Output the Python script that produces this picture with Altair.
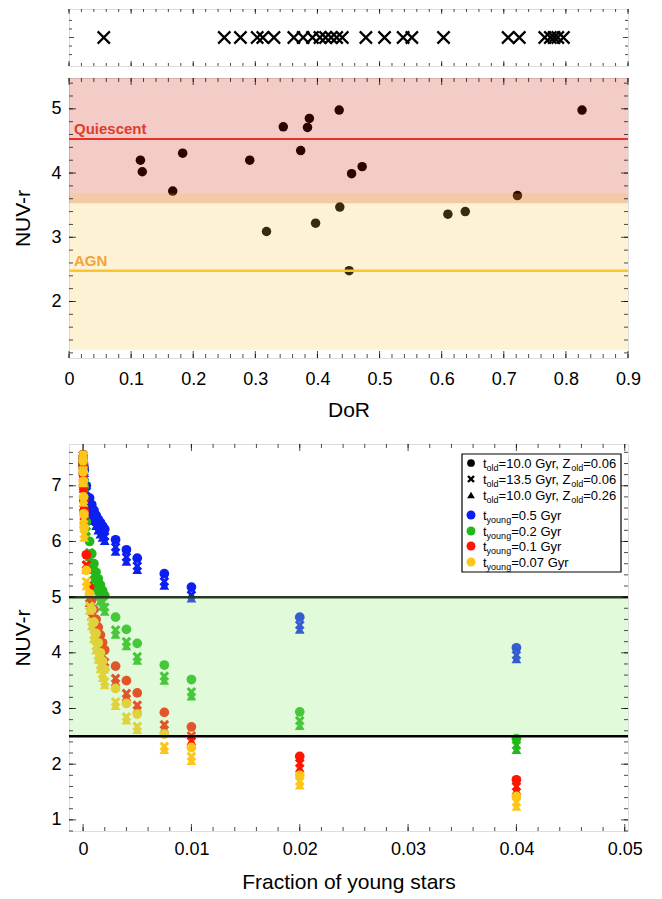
import altair as alt
import pandas as pd

FONT = "Liberation Sans"

# ---------------- top strip: DoR of the full sample ----------------
strip_dor = [0.056, 0.250, 0.276, 0.303, 0.312, 0.330, 0.362, 0.377, 0.392, 0.404,
             0.413, 0.422, 0.431, 0.440, 0.478, 0.508, 0.538, 0.552, 0.603, 0.707,
             0.725, 0.766, 0.775, 0.781, 0.787, 0.796]

# ---------------- middle panel: NUV-r vs DoR ----------------
mid_dor = [0.115, 0.118, 0.167, 0.183, 0.291, 0.318, 0.345, 0.373, 0.384, 0.387, 0.397,
           0.435, 0.436, 0.451, 0.455, 0.472, 0.610, 0.638, 0.722, 0.826]
mid_nuvr = [4.20, 4.02, 3.72, 4.31, 4.20, 3.09, 4.72, 4.35, 4.71, 4.85, 3.22,
            4.98, 3.47, 2.48, 3.99, 4.10, 3.36, 3.40, 3.65, 4.98]
quiescent_line = 4.53
agn_line = 2.48
quiescent_band = [3.53, 5.48]
agn_band = [1.25, 3.68]
band_labels = ["Quiescent", "AGN"]

# ---------------- bottom panel: models ----------------
frac = [0, 0.00001, 0.00002, 0.00004, 0.00007, 0.0001, 0.0003, 0.0006, 0.0008, 0.001,
        0.0012, 0.0014, 0.0016, 0.0018, 0.002, 0.003, 0.004, 0.005, 0.0075, 0.01, 0.02, 0.04]

blue_circle = [7.45, 7.43, 7.41, 7.38, 7.33, 7.28, 7.00, 6.78, 6.66, 6.56, 6.47, 6.40, 6.34, 6.28, 6.22,
               6.03, 5.85, 5.70, 5.42, 5.18, 4.64, 4.09]
blue_cross = [7.55, 7.50, 7.45, 7.38, 7.30, 7.22, 6.90, 6.66, 6.54, 6.44, 6.35, 6.27, 6.21, 6.15, 6.09,
              5.90, 5.72, 5.56, 5.28, 5.04, 4.50, 3.96]
blue_tri = [7.60, 7.52, 7.46, 7.37, 7.27, 7.18, 6.84, 6.60, 6.47, 6.37, 6.28, 6.20, 6.13, 6.07, 6.01,
            5.82, 5.64, 5.49, 5.21, 4.98, 4.42, 3.89]

green_circle = [7.45, 7.40, 7.35, 7.25, 7.10, 6.98, 6.35, 6.00, 5.78, 5.60, 5.45, 5.33, 5.22, 5.12, 5.03,
                4.64, 4.42, 4.17, 3.78, 3.52, 2.94, 2.46]
green_cross = [7.55, 7.45, 7.36, 7.20, 7.02, 6.86, 6.18, 5.80, 5.58, 5.40, 5.25, 5.12, 5.01, 4.91, 4.82,
               4.41, 4.20, 3.93, 3.58, 3.30, 2.78, 2.34]
green_tri = [7.60, 7.48, 7.37, 7.18, 6.97, 6.80, 6.10, 5.72, 5.50, 5.32, 5.17, 5.04, 4.93, 4.83, 4.74,
             4.33, 4.12, 3.86, 3.50, 3.22, 2.69, 2.26]

red_circle = [7.45, 7.35, 7.22, 7.00, 6.75, 6.55, 5.76, 5.18, 4.95, 4.78, 4.60, 4.46, 4.32, 4.18, 4.05,
              3.76, 3.50, 3.28, 2.93, 2.67, 2.14, 1.72]
red_cross = [7.55, 7.40, 7.24, 6.98, 6.68, 6.45, 5.58, 4.98, 4.74, 4.56, 4.38, 4.24, 4.10, 3.96, 3.83,
             3.54, 3.27, 3.06, 2.71, 2.51, 2.02, 1.60]
red_tri = [7.60, 7.42, 7.24, 6.95, 6.63, 6.39, 5.50, 4.90, 4.66, 4.48, 4.30, 4.16, 4.02, 3.89, 3.76,
           3.48, 3.21, 3.00, 2.64, 2.42, 1.93, 1.53]

yellow_circle = [7.45, 7.25, 7.08, 6.80, 6.50, 6.25, 5.48, 5.06, 4.78, 4.55, 4.35, 4.18, 4.00, 3.85, 3.70,
                 3.36, 3.09, 2.90, 2.54, 2.30, 1.80, 1.42]
yellow_cross = [7.55, 7.28, 7.06, 6.74, 6.40, 6.13, 5.28, 4.84, 4.56, 4.32, 4.12, 3.95, 3.78, 3.62, 3.48,
                3.12, 2.85, 2.68, 2.32, 2.14, 1.69, 1.32]
yellow_tri = [7.60, 7.30, 7.05, 6.70, 6.35, 6.07, 5.20, 4.76, 4.48, 4.25, 4.05, 3.88, 3.71, 3.55, 3.42,
              3.05, 2.79, 2.62, 2.26, 2.06, 1.62, 1.24]

young_ages = ["0.5", "0.2", "0.1", "0.07"]
young_colors = ["#0b1ff2", "#23b81a", "#ff1500", "#ffc61a"]
old_models = [("10.0", "0.06"), ("13.5", "0.06"), ("10.0", "0.26")]
green_zone = [2.5, 5.0]

# ---------------- layout constants ----------------
W = 559
H_STRIP, H_MID, H_BOT = 57, 280, 387
LABEL_FS, TITLE_FS = 18, 21
XPATH = ("M-1,-0.55L-0.55,-1L1,0.55L0.55,1Z"
         "M0.55,-1L1,-0.55L-0.55,1L-1,0.55Z")
THIN_X = "M-1,-1L1,1M-1,1L1,-1"


def frange(a, b, step):
    out, k = [], 0
    while True:
        v = round(a + k * step, 6)
        if v > b + 1e-9:
            break
        out.append(v)
        k += 1
    return out


def frame_ticks(xs, ys, xax, yax, xdom, ydom, xmaj, xmin, ymaj, ymin, lmaj=7, lmin=4):
    layers = []
    for vals, L in [(xmaj, lmaj), (xmin, lmin)]:
        base = alt.Chart(pd.DataFrame({"v": vals}))
        for yv, off in [(ydom[0], -L / 2), (ydom[1], L / 2)]:
            layers.append(base.mark_tick(orient="vertical", size=L, thickness=1,
                                         color="black", yOffset=off).encode(
                x=alt.X("v:Q", scale=xs, axis=xax),
                y=alt.YDatum(yv, type="quantitative", scale=ys, axis=yax)))
    for vals, L in [(ymaj, lmaj), (ymin, lmin)]:
        base = alt.Chart(pd.DataFrame({"v": vals}))
        for xv, off in [(xdom[0], L / 2), (xdom[1], -L / 2)]:
            layers.append(base.mark_tick(orient="horizontal", size=L, thickness=1,
                                         color="black", xOffset=off).encode(
                y=alt.Y("v:Q", scale=ys, axis=yax),
                x=alt.XDatum(xv, type="quantitative", scale=xs, axis=xax)))
    return layers


def axis(title, values, fmt="~g", lpad=8, tpad=18):
    return alt.Axis(title=title, values=values, format=fmt, ticks=False, domain=False,
                    grid=False, labelFontSize=LABEL_FS, titleFontSize=TITLE_FS,
                    titleFontWeight="normal", labelColor="black", titleColor="black",
                    labelPadding=lpad, titlePadding=tpad, labelFont=FONT, titleFont=FONT,
                    labelFlush=False, labelOverlap=False)


# ---------------- strip ----------------
xs_s = alt.Scale(domain=[0, 0.9], nice=False, zero=False)
ys_s = alt.Scale(domain=[0, 1], nice=False, zero=False)
strip_df = pd.DataFrame({"dor": strip_dor, "y": [0.5] * len(strip_dor)})
strip_pts = alt.Chart(strip_df).mark_point(shape=THIN_X, size=150, filled=False,
                                           stroke="black", strokeWidth=2.2, opacity=1).encode(
    x=alt.X("dor:Q", scale=xs_s, axis=None),
    y=alt.Y("y:Q", scale=ys_s, axis=None))
strip = alt.layer(strip_pts, *frame_ticks(xs_s, ys_s, None, None, [0, 0.9], [0, 1],
                                          frange(0, 0.9, 0.1), frange(0, 0.9, 0.02),
                                          [0.5], [0.2, 0.35, 0.65, 0.8], lmaj=5, lmin=3)
                  ).properties(width=W, height=H_STRIP)

# ---------------- middle ----------------
xs_m = alt.Scale(domain=[0, 0.9], nice=False, zero=False)
ys_m = alt.Scale(domain=[1.12, 5.48], nice=False, zero=False)
ax_mx = axis("DoR", frange(0, 0.9, 0.1), lpad=12, tpad=11)
ax_my = axis("NUV-r", [2, 3, 4, 5], "d", lpad=8, tpad=17)
mid_df = pd.DataFrame({"dor": mid_dor, "nuv": mid_nuvr})
mid_pts = alt.Chart(mid_df).mark_circle(size=90, color="black", opacity=1).encode(
    x=alt.X("dor:Q", scale=xs_m, axis=ax_mx),
    y=alt.Y("nuv:Q", scale=ys_m, axis=ax_my))
band_df = pd.DataFrame({"lo": [quiescent_band[0]], "hi": [quiescent_band[1]]})
red_band = alt.Chart(band_df).mark_rect(color="#c81400", opacity=0.22).encode(
    y=alt.Y("lo:Q", scale=ys_m, axis=ax_my), y2="hi:Q")
agn_df = pd.DataFrame({"lo": [agn_band[0]], "hi": [agn_band[1]]})
yel_band = alt.Chart(agn_df).mark_rect(color="#f5c83c", opacity=0.22).encode(
    y=alt.Y("lo:Q", scale=ys_m, axis=ax_my), y2="hi:Q")
q_line = alt.Chart(pd.DataFrame({"v": [quiescent_line]})).mark_rule(
    color="#e8322a", strokeWidth=2).encode(y=alt.Y("v:Q", scale=ys_m, axis=ax_my))
a_line = alt.Chart(pd.DataFrame({"v": [agn_line]})).mark_rule(
    color="#f8c530", strokeWidth=2.5).encode(y=alt.Y("v:Q", scale=ys_m, axis=ax_my))
lab_df = pd.DataFrame({"x": [0.008, 0.008], "y": [quiescent_line, agn_line],
                       "t": band_labels})
labels = alt.Chart(lab_df).mark_text(align="left", baseline="alphabetic", dy=-5,
                                     fontSize=15, fontWeight="bold", font=FONT).encode(
    x=alt.X("x:Q", scale=xs_m, axis=ax_mx), y=alt.Y("y:Q", scale=ys_m, axis=ax_my), text="t:N",
    color=alt.Color("t:N", scale=alt.Scale(domain=band_labels, range=["#e03c2c", "#f5a23a"]),
                    legend=None))
mid = alt.layer(mid_pts, red_band, yel_band, q_line, a_line, labels,
                *frame_ticks(xs_m, ys_m, ax_mx, ax_my, [0, 0.9], [1.12, 5.48],
                             frange(0, 0.9, 0.1), frange(0, 0.9, 0.02),
                             [2, 3, 4, 5], frange(1.2, 5.4, 0.2))
                ).properties(width=W, height=H_MID)

# ---------------- bottom ----------------
XD = [-0.0013, 0.0503]
YD = [0.8, 7.75]
xs_b = alt.Scale(domain=XD, nice=False, zero=False)
ys_b = alt.Scale(domain=YD, nice=False, zero=False)
ax_bx = axis("Fraction of young stars", frange(0, 0.05, 0.01), lpad=9, tpad=13)
ax_by = axis("NUV-r", [1, 2, 3, 4, 5, 6, 7], "d", lpad=8, tpad=17)
series = [
    (young_colors[0], blue_tri, blue_cross, blue_circle),
    (young_colors[1], green_tri, green_cross, green_circle),
    (young_colors[2], red_tri, red_cross, red_circle),
    (young_colors[3], yellow_tri, yellow_cross, yellow_circle),
]
rows = []
for col, tri, crs, cir in series:
    for shp, vals in [("tri", tri), ("x", crs), ("circle", cir)]:
        for f, v in zip(frac, vals):
            rows.append({"frac": f, "nuv": v, "col": col, "shp": shp})
bot_df = pd.DataFrame(rows)
bot_pts = alt.Chart(bot_df).mark_point(filled=True, opacity=1, size=95).encode(
    x=alt.X("frac:Q", scale=xs_b, axis=ax_bx),
    y=alt.Y("nuv:Q", scale=ys_b, axis=ax_by),
    color=alt.Color("col:N", scale=None, legend=None),
    shape=alt.Shape("shp:N", scale=alt.Scale(domain=["circle", "x", "tri"],
                                             range=["circle", XPATH, "triangle-up"]),
                    legend=None))
gz = alt.Chart(pd.DataFrame({"lo": [green_zone[0]], "hi": [green_zone[1]]})).mark_rect(
    color="#98ee84", opacity=0.3).encode(y=alt.Y("lo:Q", scale=ys_b, axis=ax_by), y2="hi:Q")
gz_lines = alt.Chart(pd.DataFrame({"v": green_zone, "c": ["#000000", "#2b3a22"]})).mark_rule(
    strokeWidth=2.5).encode(y=alt.Y("v:Q", scale=ys_b, axis=ax_by),
                            color=alt.Color("c:N", scale=None))

# legend (custom, with subscripts)
ARIAL = {'t': 278, 'o': 556, 'l': 222, 'd': 556, '=': 584, '.': 278, ' ': 278, 'G': 778,
         'y': 500, 'r': 333, ',': 278, 'Z': 611, 'u': 556, 'n': 556, 'g': 556}
for ch in "0123456789":
    ARIAL[ch] = 556


def tw(s, fs):
    return sum(ARIAL.get(c, 556) for c in s) * fs / 1000.0


LX1, LX2, LY1, LY2 = 393, 552, 10, 128
ROW_Y = [19, 35, 51, 71, 87, 102, 118]
SYM_X, TXT_X = 402, 414
FS, SFS = 13, 9
leg_layers = [alt.Chart(pd.DataFrame({"a": [0]})).mark_rect(
    fill="white", stroke="black", strokeWidth=1.2).encode(
    x=alt.value(LX1), x2=alt.value(LX2), y=alt.value(LY1), y2=alt.value(LY2))]
one = pd.DataFrame({"a": [0]})
entries = []
for i, (age, z) in enumerate(old_models):
    shape = ["circle", XPATH, "triangle-up"][i]
    entries.append((shape, "black", [("t", 0), ("old", 1), ("=%s Gyr, Z" % age, 0), ("old", 1), ("=%s" % z, 0)]))
for age, col in zip(young_ages, young_colors):
    entries.append(("circle", col, [("t", 0), ("young", 1), ("=%s Gyr" % age, 0)]))
for (shape, col, pieces), yc in zip(entries, ROW_Y):
    leg_layers.append(alt.Chart(one).mark_point(shape=shape, filled=True, color=col,
                                                size=60 if col == "black" else 80, opacity=1).encode(
        x=alt.value(SYM_X), y=alt.value(yc)))
    xcur = TXT_X
    for txt, sub in pieces:
        fs = SFS if sub else FS
        leg_layers.append(alt.Chart(one).mark_text(
            text=txt, fontSize=fs, font=FONT, align="left", baseline="alphabetic",
            color="black").encode(x=alt.value(xcur), y=alt.value(yc + 5 + (3 if sub else 0))))
        xcur += tw(txt, fs)

bot = alt.layer(bot_pts, gz, gz_lines,
                *frame_ticks(xs_b, ys_b, ax_bx, ax_by, XD, YD, frange(0, 0.05, 0.01),
                             frange(0, 0.05, 0.002), [1, 2, 3, 4, 5, 6, 7], frange(0.8, 7.6, 0.2)),
                *leg_layers).properties(width=W, height=H_BOT)

chart = alt.vconcat(alt.vconcat(strip, mid, spacing=10), bot, spacing=22).properties(
    padding={"left": 4, "top": 0, "right": 5, "bottom": 5},
    background="white",
).configure_view(stroke="black", strokeWidth=1.5).configure(font=FONT)

chart.save("out.html", embed_options={"renderer": "svg", "actions": False})
